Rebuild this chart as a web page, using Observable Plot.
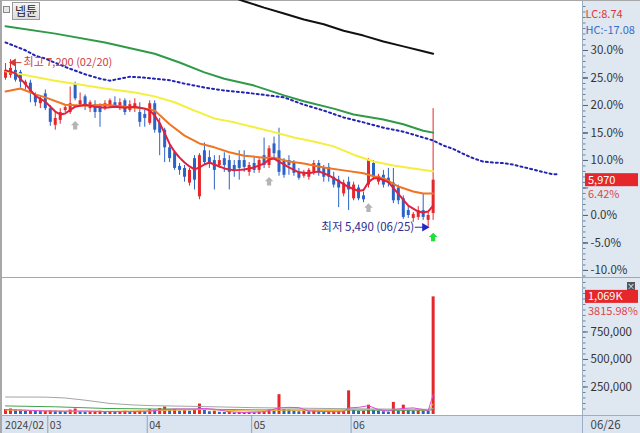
<!DOCTYPE html>
<html><head><meta charset="utf-8">
<script src="https://cdn.jsdelivr.net/npm/d3@7"></script>
<script src="https://cdn.jsdelivr.net/npm/@observablehq/plot@0.6"></script>
<style>
html,body{margin:0;padding:0;background:#fff;}
#wrap{position:relative;width:640px;height:433px;overflow:hidden;font-family:"Noto Sans CJK KR","Noto Sans",sans-serif;background:#fff;}
.bg{position:absolute;}
#charts{position:absolute;left:0;top:0;width:640px;}
#charts svg{display:block;background:transparent;}
#name{left:12px;top:2px;width:26px;height:16px;border:1px solid #9a9a9a;background:linear-gradient(#f6f6f6,#dcdcdc);font-size:12px;line-height:16px;text-align:center;color:#222;}
#icon{left:3px;top:6px;width:5px;height:5px;border:1px solid #888;background:#e8e8e8;}
#closebtn{left:627px;top:282px;width:8px;height:8px;background:#555;color:#fff;font-size:8px;line-height:8px;text-align:center;}
</style></head><body>
<div id="wrap">
 <div class="bg" style="left:583px;top:0;width:57px;height:415px;background:#dfe7f1"></div>
 <div class="bg" style="left:0;top:415px;width:640px;height:18px;background:#dbe5f1"></div>
 <div class="bg" style="left:582px;top:0;width:1px;height:433px;background:#9aaec4"></div>
 <div class="bg" style="left:0;top:0;width:2px;height:433px;background:#a8a8a8"></div>
 <div class="bg" style="left:0;top:0;width:640px;height:1px;background:#a8a8a8"></div>
 <div class="bg" style="left:0;top:277px;width:640px;height:1px;background:#a0a8b4"></div>
 <div class="bg" style="left:0;top:415px;width:640px;height:1px;background:#9aaec4"></div>
 <div id="charts"></div>
 <div class="bg" id="icon"></div>
 <div class="bg" id="name">넵튠</div>
 <div class="bg" id="closebtn">×</div>
</div>
<script>
// ---- daily candles (trading-day index 0 = 02/19 ... 86 = 06/26)
const open  = [7010,7040,7090,7070,6940,6960,6830,6750,6850,
  6700,6530,6580,6680,6660,6950,6740,6820,6700,6740,6720,6700,6720,6760,6700,6780,6680,6700,6660,6640,
  6550,6750,6550,6480,6300,6250,6110,6090,5940,6190,5800,6270,6200,6170,6120,6190,6170,6120,6170,6170,6050,
  6140,6070,6220,6120,6340,6270,6170,6170,6140,6050,6010,6000,6050,6140,6090,6100,6000,5970,5830,5950,
  5780,5890,5810,5920,6140,5950,6020,5990,5940,5890,5780,5660,5580,5590,5660,5560,5630];
const high  = [7160,7200,7170,7090,6990,6990,6860,6830,6890,
  6730,6660,6700,6740,6920,6970,6860,6840,6780,6780,6750,6780,6800,6820,6800,6800,6780,6800,6760,6700,
  6780,6780,6600,6500,6330,6270,6140,6120,6090,6220,6240,6350,6270,6220,6220,6250,6220,6170,6270,6270,6150,
  6200,6190,6400,6320,6410,6500,6190,6220,6170,6090,6070,6090,6170,6170,6120,6140,6050,6010,5970,6000,
  5950,5920,5850,6190,6170,6030,6070,6090,6090,5920,5810,5710,5640,5700,5830,5640,6700];
const low   = [6990,7010,6970,6910,6890,6760,6720,6700,6680,
  6520,6480,6540,6660,6640,6780,6720,6680,6660,6600,6510,6680,6700,6700,6680,6630,6660,6660,6510,6510,
  6530,6450,6220,6150,6150,6070,6020,5950,5910,5870,5770,6120,6090,5870,6090,6050,5870,6000,5970,6050,6010,
  6040,6040,6090,6090,6200,6010,5990,6020,6010,5970,5990,5970,6020,6010,5950,5950,5890,5690,5800,5660,
  5760,5760,5740,5890,5970,5920,5890,5900,5730,5720,5570,5580,5540,5560,5560,5490,5560];
const close = [7090,7110,6990,6970,6970,6860,6760,6800,6700,
  6560,6600,6660,6710,6750,6800,6780,6720,6760,6660,6660,6750,6780,6720,6760,6660,6740,6750,6560,6600,
  6750,6480,6450,6300,6190,6090,6070,6000,6070,5970,6220,6150,6140,6070,6170,6120,6050,6070,6090,6100,6120,
  6070,6170,6120,6290,6240,6050,6020,6120,6040,5990,6040,6070,6140,6040,6000,6000,5920,5890,5940,5870,
  5920,5780,5770,6170,6000,6010,5920,5940,5760,5760,5590,5610,5620,5660,5590,5610,5970];
// volume in thousands of shares
const volumeK = [45,50,40,38,30,35,30,28,30,
  35,30,28,25,40,50,25,22,25,28,30,22,28,22,25,30,22,28,30,25,
  45,40,55,68,40,45,30,35,30,45,95,40,25,30,20,18,22,15,18,15,18,
  15,20,25,40,30,180,45,40,30,25,30,25,35,25,20,20,22,25,30,215,
  40,30,30,85,40,30,25,20,110,30,85,40,30,35,30,28,1069];

// ---- moving averages: [day index, price]
const ma5 = [[0,7090],[2,7060],[4,6950],[6,6830],[8,6770],[10,6670],[11,6640],[12,6650],[14,6720],[16,6740],[18,6720],[20,6710],[22,6720],[24,6710],[26,6720],[28,6700],[29,6680],[30,6630],[31,6550],[32,6450],[33,6340],[34,6260],[35,6200],[36,6150],[37,6110],[38,6080],[39,6100],[40,6130],[41,6150],[42,6130],[44,6090],[46,6070],[48,6080],[50,6100],[52,6140],[53,6180],[54,6190],[55,6160],[57,6100],[59,6050],[61,6040],[63,6060],[65,6020],[67,5960],[69,5900],[71,5860],[72,5870],[73,5950],[74,5990],[75,5990],[77,5950],[79,5830],[81,5710],[83,5650],[84,5640],[85,5650],[86,5710]];
const ma20 = [[0,6875],[3,6905],[6,6845],[8,6815],[12,6740],[16,6730],[20,6740],[24,6720],[28,6700],[30,6680],[33,6540],[36,6425],[39,6345],[42,6305],[45,6255],[48,6220],[52,6200],[54,6200],[57,6160],[60,6140],[64,6100],[68,6070],[72,6040],[74,6010],[76,5990],[79,5905],[82,5855],[84,5835],[86,5835]];
const ma60 = [[0,7080],[10,6985],[20,6905],[26,6865],[30,6825],[34,6765],[38,6680],[42,6600],[44,6580],[46,6560],[50,6510],[54,6460],[58,6405],[62,6365],[66,6315],[70,6230],[74,6160],[78,6120],[82,6090],[86,6060]];
const ma120 = [[0,7540],[10,7465],[20,7375],[30,7260],[35,7170],[40,7070],[44,7005],[50,6935],[56,6835],[60,6775],[66,6700],[70,6640],[76,6590],[80,6540],[84,6475],[86,6455]];
const ma240 = [[40,7935],[44,7865],[48,7795],[52,7730],[56,7670],[60,7610],[64,7560],[68,7495],[72,7445],[76,7385],[80,7335],[84,7285],[86,7260]];
const leadSpan = [[0,7375],[4,7295],[6,7240],[8,7210],[12,7125],[16,7050],[19,7005],[21,6985],[23,7005],[25,7025],[27,7020],[30,7005],[33,6990],[36,6955],[40,6915],[44,6885],[48,6865],[52,6840],[56,6815],[60,6740],[64,6680],[68,6610],[72,6560],[76,6505],[80,6465],[84,6405],[86,6375],[88,6325],[90,6290],[92,6240],[94,6195],[96,6160],[98,6150],[100,6145],[102,6130],[104,6105],[106,6080],[108,6055],[110,6030],[111,6030]];
// volume averages (thousands)
const volMaGray = [[0,159],[8,158],[12,150],[16,130],[21,100],[26,86],[30,80],[40,72],[50,62],[60,57],[70,52],[80,48],[85,47],[86,55]];
const volMaGreen = [[0,78],[10,70],[20,55],[30,50],[40,48],[50,42],[60,40],[70,40],[80,38],[85,38],[86,45]];
const volMaOrange = [[0,40],[10,32],[20,28],[30,35],[40,45],[50,30],[56,40],[66,35],[70,45],[80,45],[85,42],[86,95]];
const volMaPink = [[0,45],[4,40],[8,32],[12,30],[16,32],[20,27],[25,26],[29,30],[31,42],[34,50],[38,50],[40,55],[42,48],[45,25],[48,18],[52,25],[55,60],[57,65],[59,62],[61,32],[64,27],[68,25],[69,60],[71,65],[73,80],[75,45],[77,30],[78,45],[80,55],[82,60],[84,45],[85,35],[86,180]];

// ---- signals & labels
const sigIdx = [14, 53, 73], sigPrice = [6530, 5960, 5690];
const buyIdx = [86], buyPrice = [5390];
const monthStarts = [0, 9, 29, 50, 70];
const monthLabels = ["2024/02", "03", "04", "05", "06"];
const lastDate = "06/26", highDate = "02/20", lowDate = "06/25";
const pctTicks = [-10, -5, 0, 5, 10, 15, 20, 25, 30];
const pctLabelled = [-10, -5, 0, 10, 15, 20, 25, 30]; // 5.0% sits under the price tag
const volTicks = [250000, 500000, 750000];
const volRatioText = "3815.98%";

// ---- derived
const fontFam = '"Noto Sans CJK KR","Noto Sans",sans-serif';
const RED = "#e5262a", BLUE = "#2b62c6";
const days = d3.range(close.length);
const iLast = close.length - 1;
const base = close[iLast - 1];
const last = close[iLast];
const minLow = d3.min(low), maxHigh = d3.max(high);
const iLow = low.indexOf(minLow), iHigh = high.indexOf(maxHigh);
const vol = volumeK.map(v => v * 1000);
const toPrice = p => base * (1 + p / 100);
const pctLabel = v => { let p = Math.round((v / base - 1) * 1000) / 10; if (Math.abs(p) < 1e-9) p = 0; return p.toFixed(1) + "%"; };
const fmt = d3.format(",");
const X = d => d[0], Y = d => d[1];
const up = i => close[i] >= open[i];
const volUp = i => i === 0 || vol[i] >= vol[i - 1];
const lc = ((last / minLow - 1) * 100).toFixed(2);
const hc = ((last / maxHigh - 1) * 100).toFixed(2);
const chg = ((last / base - 1) * 100).toFixed(2) + "%";

const upArrow = {draw(ctx, size) {
  const s = Math.sqrt(size) * 0.6;
  ctx.moveTo(0, -s); ctx.lineTo(s, 0); ctx.lineTo(s * 0.5, 0); ctx.lineTo(s * 0.5, s);
  ctx.lineTo(-s * 0.5, s); ctx.lineTo(-s * 0.5, 0); ctx.lineTo(-s, 0); ctx.closePath();
}};

function tag(value, label, sub) {
  return (index, scales, values, dims) => {
    const y = scales.y(value);
    const x0 = dims.width - dims.marginRight + 3;
    const g = d3.create("svg:g").attr("font-family", fontFam).attr("font-size", 11).attr("text-anchor", "start");
    g.append("rect").attr("x", x0).attr("y", y - 6.5).attr("width", 53).attr("height", 13).attr("fill", RED);
    g.append("text").attr("x", x0 + 3).attr("y", y).attr("dy", "0.35em").attr("fill", "#fff").text(label);
    g.append("text").attr("x", x0 + 3).attr("y", y + 14.5).attr("dy", "0.35em").attr("fill", "#e0454a").text(sub);
    return g.node();
  };
}

const common = {
  width: 640, marginLeft: 3, marginRight: 58, marginTop: 0,
  x: {domain: [-0.41, 116.04], axis: null},
  color: {type: "identity"},
  style: {fontFamily: fontFam, background: "transparent", overflow: "visible"}
};

const pricePlot = Plot.plot({
  ...common, height: 278, marginBottom: 0,
  y: {domain: [4967, 7803], axis: null},
  marks: [
    Plot.ruleX(days, {x: d => d, y1: d => low[d], y2: d => high[d], stroke: d => up(d) ? RED : BLUE, strokeWidth: 1}),
    Plot.ruleX(days, {x: d => d, y1: d => open[d], y2: d => close[d], stroke: d => up(d) ? RED : BLUE, strokeWidth: 3}),
    Plot.line(ma240, {x: X, y: Y, stroke: "#111", strokeWidth: 2, clip: true}),
    Plot.line(ma120, {x: X, y: Y, stroke: "#2f9a47", strokeWidth: 2}),
    Plot.line(leadSpan, {x: X, y: Y, stroke: "#2424b4", strokeWidth: 2, strokeDasharray: "2,3"}),
    Plot.line(ma60, {x: X, y: Y, stroke: "#f4ee3c", strokeWidth: 2}),
    Plot.line(ma20, {x: X, y: Y, stroke: "#f07422", strokeWidth: 2}),
    Plot.line(ma5, {x: X, y: Y, stroke: "#e3203c", strokeWidth: 2}),
    Plot.dot(sigIdx, {x: d => d, y: (d, i) => sigPrice[i], symbol: upArrow, r: 4, fill: "#b5b5b5"}),
    Plot.dot(buyIdx, {x: d => d, y: (d, i) => buyPrice[i], symbol: upArrow, r: 4, fill: "#1fe03a"}),
    // high annotation
    Plot.ruleY([maxHigh], {x1: iHigh + 0.5, x2: iHigh + 2.3, stroke: "#d23a3a", strokeWidth: 1, dy: 3}),
    Plot.dot([maxHigh], {x: iHigh + 0.6, y: d => d, symbol: "triangle", rotate: -90, r: 3, fill: "#d23a3a", dy: 3}),
    Plot.text([maxHigh], {x: iHigh, y: d => d, text: d => `최고 ${fmt(d)} (${highDate})`, dx: 13, dy: 3, textAnchor: "start", fill: "#cf3b3b", fontSize: 11}),
    // low annotation
    Plot.ruleY([minLow], {x1: iLow - 2.6, x2: iLow - 0.9, stroke: "#2d2d9a", strokeWidth: 1}),
    Plot.dot([minLow], {x: iLow - 0.7, y: d => d, symbol: "triangle", rotate: 90, r: 3.2, fill: "#2626c8"}),
    Plot.text([minLow], {x: iLow, y: d => d, text: d => `최저 ${fmt(d)} (${lowDate})`, dx: -14, textAnchor: "end", fill: "#2d2d8f", fontSize: 11.5}),
    // right axis
    Plot.axisY({ticks: d3.range(-11, 39).map(toPrice), anchor: "right", tickSize: 2.5, tickFormat: () => "", stroke: "#6d7f94"}),
    Plot.axisY({ticks: pctTicks.map(toPrice), anchor: "right", tickSize: 5, tickFormat: () => "", stroke: "#55667a"}),
    Plot.axisY({ticks: pctLabelled.map(toPrice), anchor: "right", tickSize: 5, tickPadding: 3, tickFormat: pctLabel, fontSize: 11.5, fill: "#333", stroke: "#55667a"}),
    Plot.text([`LC:${lc}`], {frameAnchor: "top-right", dx: 3, dy: 10, textAnchor: "start", text: d => d, fill: "#d8393a", fontSize: 11}),
    Plot.text([`HC:${hc}`], {frameAnchor: "top-right", dx: 3, dy: 26, textAnchor: "start", text: d => d, fill: "#3a6cc8", fontSize: 11}),
    tag(last, fmt(last), chg)
  ]
});

const volPlot = Plot.plot({
  ...common, height: 137, marginBottom: 1,
  y: {domain: [0, 1236000], axis: null},
  marks: [
    Plot.ruleX(days, {x: d => d, y1: 0, y2: d => vol[d], stroke: d => volUp(d) ? RED : BLUE, strokeWidth: 3}),
    Plot.line(volMaGray, {x: X, y: d => d[1] * 1000, stroke: "#a3a3a3", strokeWidth: 1}),
    Plot.line(volMaGreen, {x: X, y: d => d[1] * 1000, stroke: "#3fa34f", strokeWidth: 1}),
    Plot.line(volMaOrange, {x: X, y: d => d[1] * 1000, stroke: "#f3b02a", strokeWidth: 1}),
    Plot.line(volMaPink, {x: X, y: d => d[1] * 1000, stroke: "#e04ce0", strokeWidth: 1}),
    Plot.axisY({ticks: d3.range(50000, 1250000, 50000), anchor: "right", tickSize: 2.5, tickFormat: () => "", stroke: "#6d7f94"}),
    Plot.axisY({ticks: volTicks, anchor: "right", tickSize: 5, tickPadding: 3, tickFormat: fmt, fontSize: 11.5, fill: "#333", stroke: "#55667a"}),
    tag(vol[iLast], fmt(Math.round(vol[iLast] / 1000)) + "K", volRatioText)
  ]
});

const axisPlot = Plot.plot({
  ...common, height: 18, marginBottom: 0,
  marks: [
    Plot.ruleX(monthStarts.slice(1), {x: d => d - 0.5, stroke: "#8ea3ba"}),
    Plot.text(monthStarts, {x: d => d - 0.5, text: (d, i) => monthLabels[i], textAnchor: "start", dx: 2, dy: 1, fill: "#444", fontSize: 10.5, letterSpacing: "-0.3px"}),
    Plot.text([lastDate], {frameAnchor: "right", dx: 8, dy: 1, textAnchor: "start", text: d => d, fill: "#444", fontSize: 11.5})
  ]
});

const host = document.getElementById("charts");
host.append(pricePlot, volPlot, axisPlot);
</script>
</body></html>
